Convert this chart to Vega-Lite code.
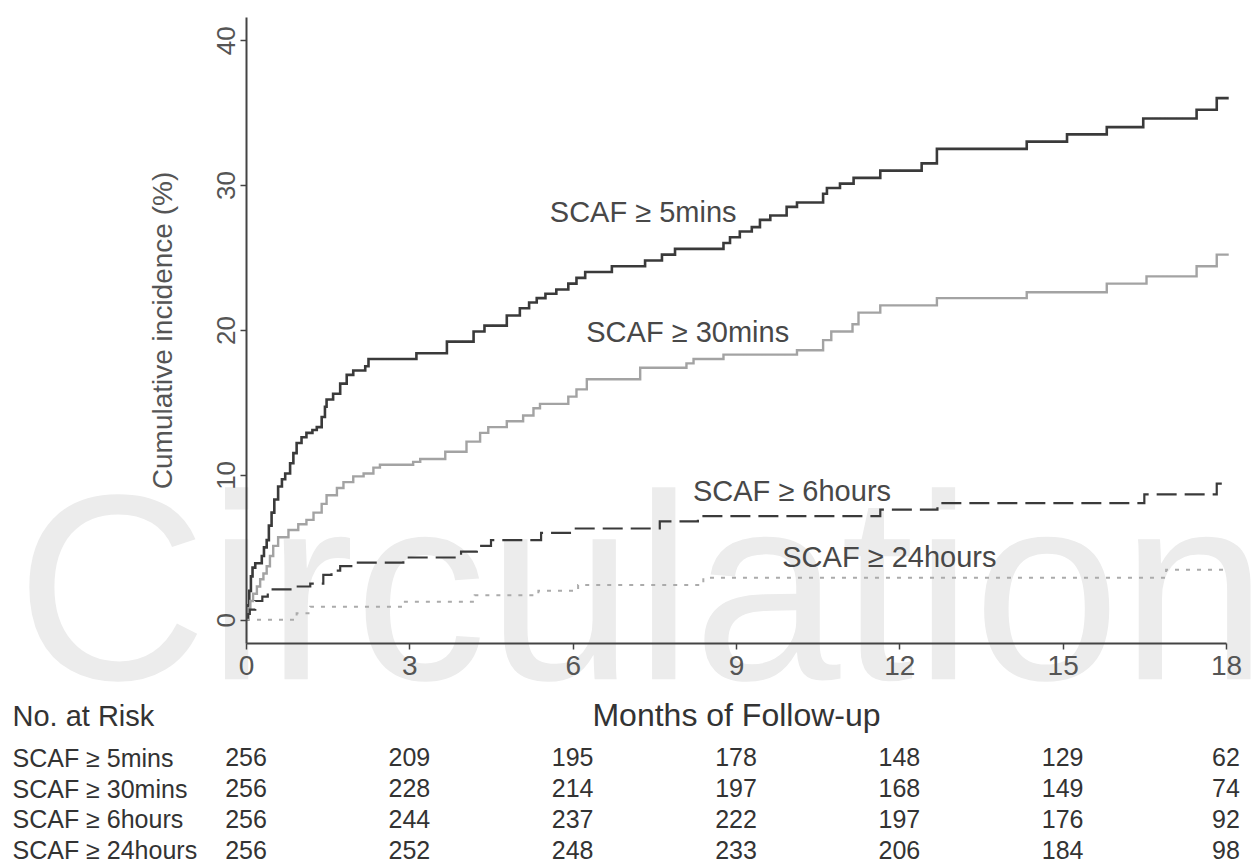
{
  "$schema": "https://vega.github.io/schema/vega-lite/v6.json",
  "background": "white",
  "padding": {"left": 12, "top": 17, "right": 0, "bottom": 0},
  "spacing": -34,
  "config": {
    "view": {"stroke": null},
    "font": "Liberation Sans",
    "axis": {"grid": false, "titleFontWeight": "normal", "labelFont": "Liberation Sans", "titleFont": "Liberation Sans"}
  },
  "datasets": {
    "curves": [
      {"series": "SCAF ≥ 5mins", "month": 0, "pct": 0},
      {"series": "SCAF ≥ 5mins", "month": 0.03, "pct": 1.0},
      {"series": "SCAF ≥ 5mins", "month": 0.06, "pct": 2.0},
      {"series": "SCAF ≥ 5mins", "month": 0.09, "pct": 3.0},
      {"series": "SCAF ≥ 5mins", "month": 0.12, "pct": 3.6},
      {"series": "SCAF ≥ 5mins", "month": 0.17, "pct": 3.9},
      {"series": "SCAF ≥ 5mins", "month": 0.29, "pct": 4.4},
      {"series": "SCAF ≥ 5mins", "month": 0.33, "pct": 5.0},
      {"series": "SCAF ≥ 5mins", "month": 0.38, "pct": 5.5},
      {"series": "SCAF ≥ 5mins", "month": 0.42, "pct": 6.5},
      {"series": "SCAF ≥ 5mins", "month": 0.47, "pct": 7.4},
      {"series": "SCAF ≥ 5mins", "month": 0.52, "pct": 8.3},
      {"series": "SCAF ≥ 5mins", "month": 0.59, "pct": 9.2},
      {"series": "SCAF ≥ 5mins", "month": 0.66, "pct": 9.7},
      {"series": "SCAF ≥ 5mins", "month": 0.72, "pct": 10.1},
      {"series": "SCAF ≥ 5mins", "month": 0.81, "pct": 10.8},
      {"series": "SCAF ≥ 5mins", "month": 0.87, "pct": 11.5},
      {"series": "SCAF ≥ 5mins", "month": 0.93, "pct": 12.2},
      {"series": "SCAF ≥ 5mins", "month": 1.02, "pct": 12.6},
      {"series": "SCAF ≥ 5mins", "month": 1.11, "pct": 12.9},
      {"series": "SCAF ≥ 5mins", "month": 1.22, "pct": 13.1},
      {"series": "SCAF ≥ 5mins", "month": 1.30, "pct": 13.3},
      {"series": "SCAF ≥ 5mins", "month": 1.39, "pct": 14.0},
      {"series": "SCAF ≥ 5mins", "month": 1.45, "pct": 14.7},
      {"series": "SCAF ≥ 5mins", "month": 1.48, "pct": 15.2},
      {"series": "SCAF ≥ 5mins", "month": 1.60, "pct": 15.6},
      {"series": "SCAF ≥ 5mins", "month": 1.73, "pct": 16.3},
      {"series": "SCAF ≥ 5mins", "month": 1.85, "pct": 16.9},
      {"series": "SCAF ≥ 5mins", "month": 1.97, "pct": 17.2},
      {"series": "SCAF ≥ 5mins", "month": 2.19, "pct": 17.5},
      {"series": "SCAF ≥ 5mins", "month": 2.25, "pct": 18.0},
      {"series": "SCAF ≥ 5mins", "month": 3.13, "pct": 18.4},
      {"series": "SCAF ≥ 5mins", "month": 3.69, "pct": 19.2},
      {"series": "SCAF ≥ 5mins", "month": 4.18, "pct": 19.9},
      {"series": "SCAF ≥ 5mins", "month": 4.38, "pct": 20.3},
      {"series": "SCAF ≥ 5mins", "month": 4.79, "pct": 21.0},
      {"series": "SCAF ≥ 5mins", "month": 5.03, "pct": 21.5},
      {"series": "SCAF ≥ 5mins", "month": 5.2, "pct": 21.9},
      {"series": "SCAF ≥ 5mins", "month": 5.34, "pct": 22.2},
      {"series": "SCAF ≥ 5mins", "month": 5.5, "pct": 22.5},
      {"series": "SCAF ≥ 5mins", "month": 5.7, "pct": 22.8},
      {"series": "SCAF ≥ 5mins", "month": 5.92, "pct": 23.2},
      {"series": "SCAF ≥ 5mins", "month": 6.07, "pct": 23.6},
      {"series": "SCAF ≥ 5mins", "month": 6.23, "pct": 24.0},
      {"series": "SCAF ≥ 5mins", "month": 6.72, "pct": 24.4},
      {"series": "SCAF ≥ 5mins", "month": 7.33, "pct": 24.8},
      {"series": "SCAF ≥ 5mins", "month": 7.64, "pct": 25.2},
      {"series": "SCAF ≥ 5mins", "month": 7.88, "pct": 25.6},
      {"series": "SCAF ≥ 5mins", "month": 8.77, "pct": 26.0},
      {"series": "SCAF ≥ 5mins", "month": 8.89, "pct": 26.4},
      {"series": "SCAF ≥ 5mins", "month": 9.07, "pct": 26.8},
      {"series": "SCAF ≥ 5mins", "month": 9.29, "pct": 27.1},
      {"series": "SCAF ≥ 5mins", "month": 9.44, "pct": 27.6},
      {"series": "SCAF ≥ 5mins", "month": 9.63, "pct": 27.9},
      {"series": "SCAF ≥ 5mins", "month": 9.93, "pct": 28.5},
      {"series": "SCAF ≥ 5mins", "month": 10.12, "pct": 28.8},
      {"series": "SCAF ≥ 5mins", "month": 10.6, "pct": 29.4},
      {"series": "SCAF ≥ 5mins", "month": 10.67, "pct": 29.8},
      {"series": "SCAF ≥ 5mins", "month": 10.91, "pct": 30.1},
      {"series": "SCAF ≥ 5mins", "month": 11.16, "pct": 30.5},
      {"series": "SCAF ≥ 5mins", "month": 11.65, "pct": 31.0},
      {"series": "SCAF ≥ 5mins", "month": 12.41, "pct": 31.5},
      {"series": "SCAF ≥ 5mins", "month": 12.69, "pct": 32.5},
      {"series": "SCAF ≥ 5mins", "month": 14.34, "pct": 33.0},
      {"series": "SCAF ≥ 5mins", "month": 15.08, "pct": 33.5},
      {"series": "SCAF ≥ 5mins", "month": 15.81, "pct": 34.0},
      {"series": "SCAF ≥ 5mins", "month": 16.48, "pct": 34.6},
      {"series": "SCAF ≥ 5mins", "month": 17.46, "pct": 35.2},
      {"series": "SCAF ≥ 5mins", "month": 17.83, "pct": 36.0},
      {"series": "SCAF ≥ 5mins", "month": 18.05, "pct": 36.0},

      {"series": "SCAF ≥ 30mins", "month": 0, "pct": 0},
      {"series": "SCAF ≥ 30mins", "month": 0.04, "pct": 0.8},
      {"series": "SCAF ≥ 30mins", "month": 0.08, "pct": 1.3},
      {"series": "SCAF ≥ 30mins", "month": 0.13, "pct": 1.8},
      {"series": "SCAF ≥ 30mins", "month": 0.2, "pct": 2.3},
      {"series": "SCAF ≥ 30mins", "month": 0.26, "pct": 2.8},
      {"series": "SCAF ≥ 30mins", "month": 0.32, "pct": 3.2},
      {"series": "SCAF ≥ 30mins", "month": 0.38, "pct": 3.7},
      {"series": "SCAF ≥ 30mins", "month": 0.44, "pct": 4.4},
      {"series": "SCAF ≥ 30mins", "month": 0.5, "pct": 5.1},
      {"series": "SCAF ≥ 30mins", "month": 0.59, "pct": 5.7},
      {"series": "SCAF ≥ 30mins", "month": 0.78, "pct": 6.2},
      {"series": "SCAF ≥ 30mins", "month": 0.96, "pct": 6.6},
      {"series": "SCAF ≥ 30mins", "month": 1.11, "pct": 6.9},
      {"series": "SCAF ≥ 30mins", "month": 1.24, "pct": 7.4},
      {"series": "SCAF ≥ 30mins", "month": 1.39, "pct": 8.0},
      {"series": "SCAF ≥ 30mins", "month": 1.48, "pct": 8.6},
      {"series": "SCAF ≥ 30mins", "month": 1.67, "pct": 9.1},
      {"series": "SCAF ≥ 30mins", "month": 1.79, "pct": 9.5},
      {"series": "SCAF ≥ 30mins", "month": 1.97, "pct": 9.9},
      {"series": "SCAF ≥ 30mins", "month": 2.16, "pct": 10.1},
      {"series": "SCAF ≥ 30mins", "month": 2.34, "pct": 10.5},
      {"series": "SCAF ≥ 30mins", "month": 2.46, "pct": 10.7},
      {"series": "SCAF ≥ 30mins", "month": 3.07, "pct": 10.9},
      {"series": "SCAF ≥ 30mins", "month": 3.2, "pct": 11.1},
      {"series": "SCAF ≥ 30mins", "month": 3.66, "pct": 11.6},
      {"series": "SCAF ≥ 30mins", "month": 4.05, "pct": 12.3},
      {"series": "SCAF ≥ 30mins", "month": 4.3, "pct": 12.9},
      {"series": "SCAF ≥ 30mins", "month": 4.45, "pct": 13.3},
      {"series": "SCAF ≥ 30mins", "month": 4.79, "pct": 13.7},
      {"series": "SCAF ≥ 30mins", "month": 5.09, "pct": 14.1},
      {"series": "SCAF ≥ 30mins", "month": 5.28, "pct": 14.6},
      {"series": "SCAF ≥ 30mins", "month": 5.4, "pct": 14.9},
      {"series": "SCAF ≥ 30mins", "month": 5.92, "pct": 15.4},
      {"series": "SCAF ≥ 30mins", "month": 6.07, "pct": 15.9},
      {"series": "SCAF ≥ 30mins", "month": 6.26, "pct": 16.6},
      {"series": "SCAF ≥ 30mins", "month": 7.24, "pct": 17.4},
      {"series": "SCAF ≥ 30mins", "month": 8.09, "pct": 17.7},
      {"series": "SCAF ≥ 30mins", "month": 8.22, "pct": 18.0},
      {"series": "SCAF ≥ 30mins", "month": 8.77, "pct": 18.3},
      {"series": "SCAF ≥ 30mins", "month": 10.12, "pct": 18.6},
      {"series": "SCAF ≥ 30mins", "month": 10.6, "pct": 19.3},
      {"series": "SCAF ≥ 30mins", "month": 10.75, "pct": 19.9},
      {"series": "SCAF ≥ 30mins", "month": 11.14, "pct": 20.4},
      {"series": "SCAF ≥ 30mins", "month": 11.25, "pct": 21.2},
      {"series": "SCAF ≥ 30mins", "month": 11.65, "pct": 21.7},
      {"series": "SCAF ≥ 30mins", "month": 12.69, "pct": 22.2},
      {"series": "SCAF ≥ 30mins", "month": 14.34, "pct": 22.6},
      {"series": "SCAF ≥ 30mins", "month": 15.81, "pct": 23.2},
      {"series": "SCAF ≥ 30mins", "month": 16.54, "pct": 23.7},
      {"series": "SCAF ≥ 30mins", "month": 17.46, "pct": 24.4},
      {"series": "SCAF ≥ 30mins", "month": 17.83, "pct": 25.2},
      {"series": "SCAF ≥ 30mins", "month": 18.05, "pct": 25.2},

      {"series": "SCAF ≥ 6hours", "month": 0, "pct": 0},
      {"series": "SCAF ≥ 6hours", "month": 0.04, "pct": 0.4},
      {"series": "SCAF ≥ 6hours", "month": 0.07, "pct": 0.7},
      {"series": "SCAF ≥ 6hours", "month": 0.17, "pct": 1.3},
      {"series": "SCAF ≥ 6hours", "month": 0.3, "pct": 1.6},
      {"series": "SCAF ≥ 6hours", "month": 0.4, "pct": 2.1},
      {"series": "SCAF ≥ 6hours", "month": 0.9, "pct": 2.3},
      {"series": "SCAF ≥ 6hours", "month": 1.18, "pct": 2.5},
      {"series": "SCAF ≥ 6hours", "month": 1.42, "pct": 3.1},
      {"series": "SCAF ≥ 6hours", "month": 1.57, "pct": 3.4},
      {"series": "SCAF ≥ 6hours", "month": 1.73, "pct": 3.7},
      {"series": "SCAF ≥ 6hours", "month": 1.97, "pct": 3.95},
      {"series": "SCAF ≥ 6hours", "month": 2.89, "pct": 4.3},
      {"series": "SCAF ≥ 6hours", "month": 3.95, "pct": 4.7},
      {"series": "SCAF ≥ 6hours", "month": 4.24, "pct": 5.1},
      {"series": "SCAF ≥ 6hours", "month": 4.5, "pct": 5.5},
      {"series": "SCAF ≥ 6hours", "month": 5.42, "pct": 6.0},
      {"series": "SCAF ≥ 6hours", "month": 5.95, "pct": 6.3},
      {"series": "SCAF ≥ 6hours", "month": 7.6, "pct": 6.8},
      {"series": "SCAF ≥ 6hours", "month": 8.3, "pct": 7.15},
      {"series": "SCAF ≥ 6hours", "month": 11.65, "pct": 7.6},
      {"series": "SCAF ≥ 6hours", "month": 12.7, "pct": 8.05},
      {"series": "SCAF ≥ 6hours", "month": 16.5, "pct": 8.65},
      {"series": "SCAF ≥ 6hours", "month": 17.83, "pct": 9.4},
      {"series": "SCAF ≥ 6hours", "month": 18.05, "pct": 9.4},

      {"series": "SCAF ≥ 24hours", "month": 0, "pct": 0},
      {"series": "SCAF ≥ 24hours", "month": 0.93, "pct": 0.45},
      {"series": "SCAF ≥ 24hours", "month": 1.18, "pct": 0.9},
      {"series": "SCAF ≥ 24hours", "month": 2.89, "pct": 1.25},
      {"series": "SCAF ≥ 24hours", "month": 4.2, "pct": 1.7},
      {"series": "SCAF ≥ 24hours", "month": 5.37, "pct": 2.0},
      {"series": "SCAF ≥ 24hours", "month": 6.1, "pct": 2.4},
      {"series": "SCAF ≥ 24hours", "month": 8.4, "pct": 2.9},
      {"series": "SCAF ≥ 24hours", "month": 16.9, "pct": 3.45},
      {"series": "SCAF ≥ 24hours", "month": 18.05, "pct": 3.45}
    ],
    "labels": [
      {"series": "SCAF ≥ 5mins", "month": 5.58, "pct": 28.1},
      {"series": "SCAF ≥ 30mins", "month": 6.25, "pct": 19.8},
      {"series": "SCAF ≥ 6hours", "month": 8.21, "pct": 8.83},
      {"series": "SCAF ≥ 24hours", "month": 9.85, "pct": 4.28}
    ],
    "risk": [
      {"group": "SCAF ≥ 5mins", "month": 0, "n": 256},
      {"group": "SCAF ≥ 5mins", "month": 3, "n": 209},
      {"group": "SCAF ≥ 5mins", "month": 6, "n": 195},
      {"group": "SCAF ≥ 5mins", "month": 9, "n": 178},
      {"group": "SCAF ≥ 5mins", "month": 12, "n": 148},
      {"group": "SCAF ≥ 5mins", "month": 15, "n": 129},
      {"group": "SCAF ≥ 5mins", "month": 18, "n": 62},
      {"group": "SCAF ≥ 30mins", "month": 0, "n": 256},
      {"group": "SCAF ≥ 30mins", "month": 3, "n": 228},
      {"group": "SCAF ≥ 30mins", "month": 6, "n": 214},
      {"group": "SCAF ≥ 30mins", "month": 9, "n": 197},
      {"group": "SCAF ≥ 30mins", "month": 12, "n": 168},
      {"group": "SCAF ≥ 30mins", "month": 15, "n": 149},
      {"group": "SCAF ≥ 30mins", "month": 18, "n": 74},
      {"group": "SCAF ≥ 6hours", "month": 0, "n": 256},
      {"group": "SCAF ≥ 6hours", "month": 3, "n": 244},
      {"group": "SCAF ≥ 6hours", "month": 6, "n": 237},
      {"group": "SCAF ≥ 6hours", "month": 9, "n": 222},
      {"group": "SCAF ≥ 6hours", "month": 12, "n": 197},
      {"group": "SCAF ≥ 6hours", "month": 15, "n": 176},
      {"group": "SCAF ≥ 6hours", "month": 18, "n": 92},
      {"group": "SCAF ≥ 24hours", "month": 0, "n": 256},
      {"group": "SCAF ≥ 24hours", "month": 3, "n": 252},
      {"group": "SCAF ≥ 24hours", "month": 6, "n": 248},
      {"group": "SCAF ≥ 24hours", "month": 9, "n": 233},
      {"group": "SCAF ≥ 24hours", "month": 12, "n": 206},
      {"group": "SCAF ≥ 24hours", "month": 15, "n": 184},
      {"group": "SCAF ≥ 24hours", "month": 18, "n": 98}
    ]
  },
  "vconcat": [
    {
      "width": 980,
      "height": 626,
      "layer": [
        {
          "data": {"values": [{"word": "Circulation"}]},
          "mark": {"type": "text", "font": "Liberation Sans", "fontSize": 265, "color": "#ececec", "align": "center", "baseline": "alphabetic"},
          "encoding": {
            "x": {"datum": 7.27, "type": "quantitative"},
            "y": {"datum": -4.1, "type": "quantitative"},
            "text": {"field": "word", "type": "nominal"}
          }
        },
        {
          "data": {"name": "curves"},
          "mark": {"type": "line", "interpolate": "step-after"},
          "encoding": {
            "x": {
              "field": "month", "type": "quantitative",
              "scale": {"domain": [0, 18], "nice": false, "zero": false},
              "axis": {
                "values": [0, 3, 6, 9, 12, 15, 18], "title": null, "zindex": 2,
                "labelFontSize": 28, "labelColor": "#555555", "labelFlush": false,
                "tickSize": 6, "tickColor": "#444444", "tickWidth": 1.5,
                "domainColor": "#444444", "domainWidth": 2, "labelPadding": 3
              }
            },
            "y": {
              "field": "pct", "type": "quantitative",
              "scale": {"domain": [-1.6, 41.6], "nice": false, "zero": false},
              "axis": {
                "values": [0, 10, 20, 30, 40], "title": "Cumulative incidence (%)", "zindex": 2,
                "titleFontSize": 28, "titleColor": "#555555", "titlePadding": 36,
                "labelFontSize": 26, "labelColor": "#555555", "labelAngle": -90,
                "labelAlign": "center", "labelBaseline": "bottom", "labelPadding": 1,
                "tickSize": 6, "tickColor": "#444444", "tickWidth": 1.5,
                "domainColor": "#444444", "domainWidth": 2
              }
            },
            "detail": {"field": "series", "type": "nominal"},
            "color": {
              "field": "series", "type": "nominal", "legend": null,
              "scale": {"domain": ["SCAF ≥ 5mins", "SCAF ≥ 30mins", "SCAF ≥ 6hours", "SCAF ≥ 24hours"],
                        "range": ["#3a3a3a", "#a3a3a3", "#3a3a3a", "#ababab"]}
            },
            "strokeDash": {
              "field": "series", "type": "nominal", "legend": null,
              "scale": {"domain": ["SCAF ≥ 5mins", "SCAF ≥ 30mins", "SCAF ≥ 6hours", "SCAF ≥ 24hours"],
                        "range": [[1, 0], [1, 0], [20, 8], [4, 7]]}
            },
            "strokeWidth": {
              "field": "series", "type": "nominal", "legend": null,
              "scale": {"domain": ["SCAF ≥ 5mins", "SCAF ≥ 30mins", "SCAF ≥ 6hours", "SCAF ≥ 24hours"],
                        "range": [2.6, 2, 2.6, 2]}
            }
          }
        },
        {
          "data": {"name": "labels"},
          "mark": {"type": "text", "align": "left", "baseline": "middle", "fontSize": 29, "color": "#484848"},
          "encoding": {
            "x": {"field": "month", "type": "quantitative"},
            "y": {"field": "pct", "type": "quantitative"},
            "text": {"field": "series", "type": "nominal"}
          }
        }
      ]
    },
    {
      "width": 980,
      "height": 123,
      "data": {"name": "risk"},
      "mark": {"type": "text", "fontSize": 25, "color": "#333333", "align": "center", "baseline": "middle"},
      "encoding": {
        "x": {
          "field": "month", "type": "quantitative",
          "scale": {"domain": [0, 18], "nice": false, "zero": false},
          "axis": {
            "orient": "top", "title": "Months of Follow-up", "labels": false, "ticks": false,
            "tickSize": 0, "domain": false, "titleFontSize": 32, "titleColor": "#333333", "titlePadding": 11
          }
        },
        "y": {
          "field": "group", "type": "nominal",
          "sort": ["SCAF ≥ 5mins", "SCAF ≥ 30mins", "SCAF ≥ 6hours", "SCAF ≥ 24hours"],
          "scale": {"paddingInner": 0, "paddingOuter": 0},
          "axis": {
            "title": "No. at Risk", "titleX": -234, "titleY": -27, "titleAngle": 0,
            "titleAlign": "left", "titleBaseline": "middle", "titleFontSize": 29, "titleColor": "#333333",
            "labelAlign": "left", "labelPadding": 234, "ticks": false, "tickSize": 0, "domain": false,
            "labelFontSize": 25, "labelColor": "#333333", "labelLimit": 0
          }
        },
        "text": {"field": "n", "type": "quantitative"}
      }
    }
  ]
}
